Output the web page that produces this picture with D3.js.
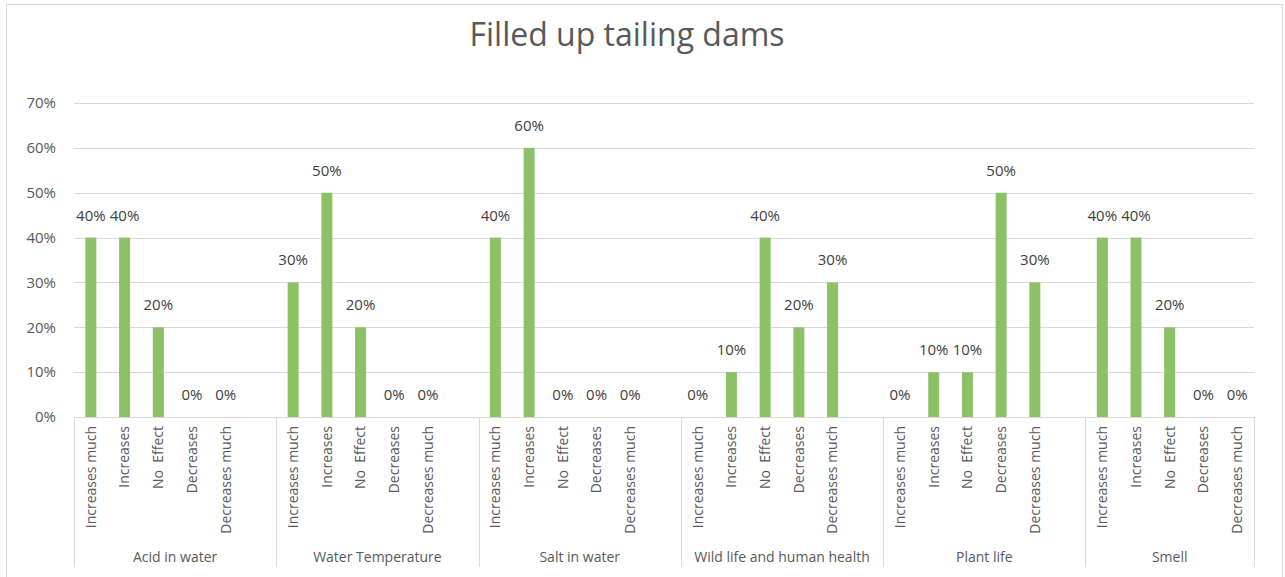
<!DOCTYPE html>
<html>
<head>
<meta charset="utf-8">
<script src="https://cdn.jsdelivr.net/npm/d3@7"></script>
<style>
  body { margin: 0; background: #fff; }
  svg text { font-family: "Open Sans", "Noto Sans", sans-serif; }
</style>
</head>
<body>
<div id="chart"></div>
<script>
var w = 1285;
var h = 577;

var groups = ["Acid in water", "Water Temperature", "Salt in water", "Wild life and human health", "Plant life", "Smell"];
var levels = ["Increases much", "Increases", "No  Effect", "Decreases", "Decreases much"];
var values = [
    [0.4, 0.4, 0.2, 0, 0],
    [0.3, 0.5, 0.2, 0, 0],
    [0.4, 0.6, 0, 0, 0],
    [0, 0.1, 0.4, 0.2, 0.3],
    [0, 0.1, 0.1, 0.5, 0.3],
    [0.4, 0.4, 0.2, 0, 0]
];
var yTicks = [0, 0.1, 0.2, 0.3, 0.4, 0.5, 0.6, 0.7];

var margin = { left: 74, right: 31, top: 103, bottom: 160 };
var pct = d3.format(".0%");

// every group gets a blank slot after it, except the last one
var slots = [];
groups.forEach(function(g, gi) {
    levels.forEach(function(l, li) {
        slots.push({ key: gi + "|" + li, group: gi, label: l, value: values[gi][li] });
    });
    if (gi < groups.length - 1) slots.push({ key: gi + "|blank", group: gi, label: "", value: null });
});

var svg = d3.select("#chart")
    .append("svg")
    .attr("width", w)
    .attr("height", h);

// outer chart frame
svg.append("rect")
    .attr("x", 6.5).attr("y", 4.5)
    .attr("width", 1276).attr("height", 600)
    .attr("fill", "#fff")
    .attr("stroke", "#d9d9d9");

var x = d3.scaleBand()
    .domain(slots.map(function(d) { return d.key; }))
    .range([margin.left, w - margin.right])
    .padding(0);

var y = d3.scaleLinear()
    .domain([0, 0.7])
    .range([417, 103]);

svg.append("text")
    .attr("x", 627)
    .attr("y", 46)
    .attr("text-anchor", "middle")
    .attr("fill", "#595959")
    .style("font-size", "32px")
    .text("Filled up tailing dams");

// gridlines
svg.append("g")
    .selectAll("line")
    .data(yTicks)
    .enter()
    .append("line")
    .attr("x1", margin.left)
    .attr("x2", w - margin.right)
    .attr("y1", function(d) { return Math.round(y(d)) + 0.5; })
    .attr("y2", function(d) { return Math.round(y(d)) + 0.5; })
    .attr("stroke", "#d9d9d9")
    .attr("stroke-width", 1);

svg.append("g")
    .selectAll("text")
    .data(yTicks)
    .enter()
    .append("text")
    .attr("x", 56)
    .attr("y", function(d) { return y(d); })
    .attr("dy", "0.35em")
    .attr("text-anchor", "end")
    .attr("fill", "#595959")
    .style("font-size", "15px")
    .text(function(d) { return pct(d); });

var barW = 11;
var real = slots.filter(function(d) { return d.value !== null; });

svg.append("g")
    .selectAll("rect")
    .data(real)
    .enter()
    .append("rect")
    .attr("x", function(d) { return x(d.key) + x.bandwidth() / 2 - barW / 2; })
    .attr("y", function(d) { return y(d.value); })
    .attr("width", barW)
    .attr("height", function(d) { return y(0) - y(d.value); })
    .attr("fill", "#8cc168");

// data labels
svg.append("g")
    .selectAll("text")
    .data(real)
    .enter()
    .append("text")
    .attr("x", function(d) { return x(d.key) + x.bandwidth() / 2; })
    .attr("y", function(d) { return y(d.value) - 17; })
    .attr("text-anchor", "middle")
    .attr("fill", "#404040")
    .style("font-size", "15px")
    .text(function(d) { return pct(d.value); });

// category labels, rotated
svg.append("g")
    .selectAll("text")
    .data(real)
    .enter()
    .append("text")
    .attr("transform", function(d) {
        return "translate(" + (x(d.key) + x.bandwidth() / 2) + ",426) rotate(-90)";
    })
    .attr("dy", "0.35em")
    .attr("text-anchor", "end")
    .attr("fill", "#595959")
    .style("font-size", "14px")
    .style("white-space", "pre")
    .text(function(d) { return d.label; });

// group spans
var spans = groups.map(function(g, gi) {
    var keys = slots.filter(function(d) { return d.group === gi; });
    var x0 = x(keys[0].key);
    var x1 = x(keys[keys.length - 1].key) + x.bandwidth();
    return { name: g, x0: x0, x1: x1 };
});

var bounds = [spans[0].x0].concat(spans.map(function(s) { return s.x1; }));

svg.append("line")
    .attr("x1", margin.left).attr("x2", w - margin.right)
    .attr("y1", 417.5).attr("y2", 417.5)
    .attr("stroke", "#d9d9d9");

svg.append("g")
    .selectAll("line")
    .data(bounds)
    .enter()
    .append("line")
    .attr("x1", function(d) { return Math.round(d) + 0.5; })
    .attr("x2", function(d) { return Math.round(d) + 0.5; })
    .attr("y1", 417)
    .attr("y2", 567)
    .attr("stroke", "#d9d9d9");

svg.append("g")
    .selectAll("text")
    .data(spans)
    .enter()
    .append("text")
    .attr("x", function(d) { return (d.x0 + d.x1) / 2; })
    .attr("y", 562)
    .attr("text-anchor", "middle")
    .attr("fill", "#595959")
    .style("font-size", "14px")
    .text(function(d) { return d.name; });
</script>
</body>
</html>
